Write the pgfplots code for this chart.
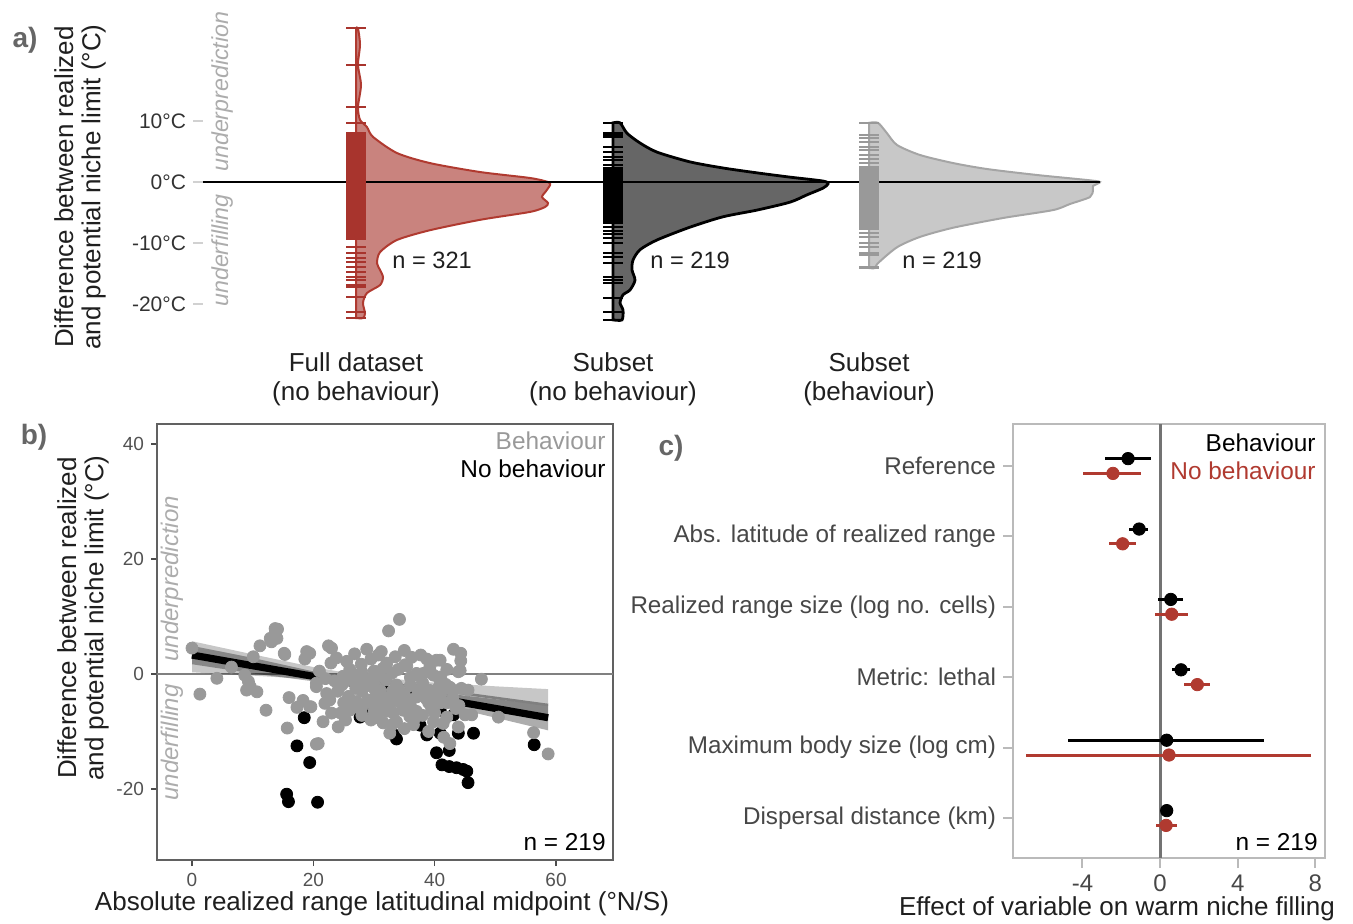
\documentclass[border=0pt]{standalone}
\usepackage{fontspec}
\setmainfont{Liberation Sans}
\usepackage{pgfplots}
\pgfplotsset{compat=1.18}
\usepackage{pgfplotstable}
\definecolor{myred}{RGB}{176,58,48}
\definecolor{rugred}{RGB}{168,52,45}
\definecolor{redfill}{RGB}{201,131,126}
\definecolor{ptgray}{RGB}{153,153,153}
\definecolor{italgray}{RGB}{172,172,172}
\definecolor{violgray}{RGB}{200,200,200}
\definecolor{violgrayline}{RGB}{165,165,165}
\definecolor{darkfill}{RGB}{102,102,102}

% ---- panel a: half violins (v = degC, w = width in px from base)
\pgfplotstableread{
v w
25.2 0
25.2 2
22.5 4
19.2 2
15.9 5
12.3 2
10.2 4
9.0 11
7.4 17
4.75 41
3.1 74
1.64 124
0.66 174
0 192
-0.5 194
-1.5 190
-2.46 186
-3.44 192
-4.1 189
-4.9 174
-6.2 124
-7.9 74
-9.5 41
-11.5 24
-13.3 21
-14.4 24
-15.6 27
-16.9 24
-18.2 11
-19.8 7
-21.5 9
-22.3 7
-22.3 0
}\violred
\pgfplotstableread{
v w
9.7 0
9.7 7
8.0 14
6.4 27
4.9 44
3.3 77
2.3 110
1.5 144
0.8 177
0.16 210
-0.3 215
-1.0 210
-2.1 194
-3.3 177
-4.6 144
-5.7 110
-7.4 77
-9.5 44
-11.1 27
-12.8 20
-14.4 19
-16.1 22
-17.7 17
-18.5 10
-19.8 7
-21.0 10
-22.6 9
-22.6 0
}\violblack
\pgfplotstableread{
v w
9.7 0
9.7 9
8.0 18
6.07 28
4.43 51
3.11 84
2.13 118
1.15 168
0.33 218
0 231
-0.66 224
-1.31 224
-2.46 221
-3.6 201
-4.6 184
-5.9 134
-7.5 84
-9.0 51
-10.7 28
-13.3 9
-14.1 6
-14.1 0
}\violgray
\pgfplotstableread{
v
25.2
19.2
12.3
9.7
8.0
7.7
7.4
7.1
6.8
6.5
6.2
5.9
5.6
5.3
5.0
4.7
4.4
4.1
3.8
3.5
3.2
2.9
2.6
2.3
2.0
1.7
1.4
1.1
0.8
0.5
0.2
-0.1
-0.4
-0.7
-1.0
-1.3
-1.6
-1.9
-2.2
-2.5
-2.8
-3.1
-3.4
-3.7
-4.0
-4.3
-4.6
-4.9
-5.2
-5.5
-5.8
-6.1
-6.4
-6.7
-7.0
-7.3
-7.6
-7.9
-8.2
-8.5
-8.8
-9.1
-9.4
-10.7
-11.6
-12.5
-13.1
-13.9
-14.8
-15.6
-16.1
-16.9
-17.2
-18.9
-21.3
-22.3
}\rugred
\pgfplotstableread{
v
9.7
8.0
7.7
7.4
5.7
4.9
4.1
3.6
2.8
2.3
2.0
1.7
1.4
1.1
0.8
0.5
0.2
-0.1
-0.4
-0.7
-1.0
-1.3
-1.6
-1.9
-2.2
-2.5
-2.8
-3.1
-3.4
-3.7
-4.0
-4.3
-4.6
-4.9
-5.2
-5.5
-5.8
-6.1
-6.4
-6.7
-7.4
-8.0
-8.6
-9.2
-10.0
-11.6
-12.3
-13.3
-15.6
-16.1
-16.6
-19.0
-21.3
-22.6
}\rugblack
\pgfplotstableread{
v
9.7
7.7
7.2
6.6
5.7
5.2
4.4
3.8
3.1
2.5
2.2
1.9
1.6
1.3
1.0
0.7
0.4
0.1
-0.2
-0.5
-0.8
-1.1
-1.4
-1.7
-2.0
-2.3
-2.6
-2.9
-3.2
-3.5
-3.8
-4.1
-4.4
-4.7
-5.0
-5.3
-5.6
-5.9
-6.2
-6.5
-6.8
-7.1
-7.4
-7.7
-8.4
-9.0
-10.0
-10.7
-11.6
-12.0
-13.9
-14.1
}\ruggray

% ---- panel b: scatter
\pgfplotstableread{
x y
0 4.5
1.3 -3.5
4.1 -0.75
11.2 4.9
12.2 -6.3
13.1 5.6
13.7 7.1
14.1 7.8
14.0 6.2
13.7 7.9
12.9 6.2
15.2 3.6
15.3 3.4
10.1 3.0
8.7 -0.2
9.3 -1.3
9.0 -2.8
10.7 -3.1
9.6 -2.2
16.0 -4.1
15.7 -9.4
17.3 -5.8
18.3 -4.6
19.6 -5.7
18.9 3.9
18.6 2.6
20.5 -1.6
20.5 -12.2
34.2 9.5
32.4 7.5
22.5 4.9
23.0 4.5
28.8 4.3
30.7 3.3
35.0 4.1
37.7 3.3
38.7 2.6
40.3 2.4
19.4 3.6
22.9 1.9
27.9 1.7
32.1 1.9
35.4 1.4
37.0 0.1
20.5 -2.2
22.2 -3.4
21.9 -5.1
22.7 -4.5
19.4 -5.7
25.8 -3.9
27.1 -4.8
26.0 -6.3
28.2 -5.4
30.4 -3.9
31.0 -5.7
32.6 -5.1
33.2 -6.8
34.8 -6.3
35.9 -7.4
33.7 -8.3
21.6 -8.3
24.1 -9.2
20.8 -12.1
32.6 -10.3
39.8 -8.3
41.4 -8.6
37.6 -0.4
39.8 -0.2
24.9 -0.4
29.3 -1.0
33.7 -1.9
24.7 -1.9
43.1 4.3
44.3 3.6
44.3 2.3
40.9 2.4
43.9 0.4
47.7 -0.9
40.9 -1.6
42.5 -2.3
44.4 -2.5
45.5 -2.8
46.1 -7.1
45.0 -7.1
43.9 -9.2
42.5 -12.1
50.5 -7.5
56.3 -10.2
58.7 -13.9
31.5 1.0
35.1 1.6
38.1 0.1
44.2 0.6
26 -1
27 -2.5
28 -3
29 -2
30 -1.5
31 -2.8
32 -1
33 -3
34 -2.5
35 -3.5
36 -2
37 -4
38 -3
39 -5
40 -4
41 -3.5
42 -5
43 -4.2
44 -5.5
36 -5.5
34 -4.8
30 -6.5
29 -4.5
27 -0.2
26 0.8
28 0.3
30 0.5
31 -0.3
33 0.2
34 0.8
36 -0.6
38 -1.5
39 -2.8
41 -0.5
42 0.8
37 -6.5
38 -7.2
40 -6.8
42 -7.5
23.5 -1.2
24 -3
25 -5
23 -6.8
31.5 -8.5
29.5 -8
35 -9.5
28 -7.2
39 -10
41.5 -11
36.5 -8.8
23.8 2.8
25.5 2.2
26.8 3.5
29.5 2.6
31.2 3.9
33.5 3.0
36.2 2.9
39.2 1.2
27.5 -1.6
28.6 -1.2
30.2 -2.8
31.8 -4.2
33.0 -4.0
34.2 -3.6
35.8 -4.5
37.2 -2.8
38.6 -4.3
40.5 -2.6
41.8 -1.8
43.0 -3.0
26.5 -4.8
27.8 -6.2
29.8 -5.2
32.0 -6.5
35.0 -6.2
36.8 -7.6
39.5 -6.0
41.0 -5.0
43.5 -6.0
24.5 -6.8
25.3 -8.0
30.5 -7.6
33.0 -8.8
21.0 0.5
22.0 -0.8
6.5 1.2
}\scatgray
\pgfplotstableread{
x y
18.5 -7.6
17.3 -12.5
19.4 -15.4
15.6 -20.9
15.9 -22.2
20.7 -22.3
27.7 -7.5
29.2 -6.0
33.2 -10.5
33.7 -11.3
37.6 -8.9
38.7 -10.6
40.3 -13.7
40.9 -10.3
42.4 -13.3
41.2 -15.8
42.4 -16.1
43.6 -16.3
44.7 -16.6
45.3 -16.9
45.5 -18.9
43.9 -10.3
46.4 -10.3
43.1 -7.1
40.1 -5.5
40.9 -6.3
56.4 -12.3
}\scatblack
\pgfplotstableread{
x y
0 5.7
10 3.42
20 1.21
29 -0.45
40 -1.51
50 -2.14
58.7 -2.63
58.7 -8.15
50 -6.16
40 -3.93
29 -1.85
20 -0.93
10 -0.28
0 0.3
}\bandgray
\pgfplotstableread{
x y
0 4.9
10 2.8
20 0.45
29 -1.53
40 -3.16
50 -4.38
58.7 -5.4
58.7 -9.8
50 -7.6
40 -5.1
29 -2.65
20 -1.27
10 0.1
0 1.7
}\bandblack

% ---- panel c: coefficients
\pgfplotstableread{
x y em ep
-1.65 6.105 1.19 1.17
-1.08 5.105 0.50 0.48
0.55 4.105 0.64 0.65
1.08 3.105 0.45 0.47
0.34 2.105 5.07 5.03
0.34 1.105 0.29 0.33
}\coefblack
\pgfplotstableread{
x y em ep
-2.43 5.895 1.54 1.45
-1.93 4.895 0.70 0.70
0.60 3.895 0.86 0.83
1.92 2.895 0.68 0.63
0.46 1.895 7.36 7.32
0.31 0.895 0.52 0.57
}\coefred

\begin{document}
\begin{tikzpicture}
\useasboundingbox (0,0) rectangle (676.5pt,461.5pt);

% ================= panel a
\begin{axis}[
  at={(101.5pt,296.5pt)}, anchor=south west,
  scale only axis, width=451pt, height=155pt,
  xmin=203, xmax=1105, ymin=-24.26, ymax=26.56,
  axis line style={draw=none},
  ytick={-20,-10,0,10},
  yticklabels={-20°C,-10°C,0°C,10°C},
  ytick pos=left, xtick pos=bottom,
  xtick={356,613,869},
  xticklabels={{Full dataset\\(no behaviour)},{Subset\\(no behaviour)},{Subset\\(behaviour)}},
  xticklabel style={align=center, font=\fontsize{13}{14.5}\selectfont, text=black!88, yshift=-3pt},
  x tick style={draw=none},
  y tick style={draw=black!18, line width=1pt},
  tick align=outside, major tick length=5pt,
  yticklabel style={font=\fontsize{10.5}{12}\selectfont, text=black!80},
  clip=false,
]
\addplot[smooth, tension=0.45, fill=redfill, draw=myred, line width=1pt] table[x expr=356+\thisrow{w}, y=v] {\violred} -- cycle;
\addplot[smooth, tension=0.45, fill=darkfill, draw=black, line width=1.4pt] table[x expr=613+\thisrow{w}, y=v] {\violblack} -- cycle;
\addplot[smooth, tension=0.45, fill=violgray, draw=violgrayline, line width=1pt] table[x expr=869+\thisrow{w}, y=v] {\violgray} -- cycle;
\addplot[only marks, mark=-, mark size=4.8pt, mark options={line width=1pt, draw=rugred}] table[x expr=356, y=v] {\rugred};
\addplot[only marks, mark=-, mark size=4.8pt, mark options={line width=1pt, draw=black}] table[x expr=613, y=v] {\rugblack};
\addplot[only marks, mark=-, mark size=4.8pt, mark options={line width=1pt, draw=black!40}] table[x expr=869, y=v] {\ruggray};
\addplot[black, line width=1pt] coordinates {(203,0) (1100,0)};
\end{axis}

% ================= panel b
\begin{axis}[
  at={(78.5pt,31.5pt)}, anchor=south west,
  scale only axis, width=228pt, height=218pt,
  xmin=-5.77, xmax=69.39, ymin=-32.35, ymax=43.48,
  axis line style={draw=black!62, line width=0.8pt},
  xtick={0,20,40,60}, ytick={-20,0,20,40},
  xtick pos=bottom, ytick pos=left,
  tick align=outside, major tick length=3pt,
  tick style={draw=black!70, line width=0.8pt},
  ticklabel style={font=\fontsize{9.5}{11}\selectfont, text=black!68},
  /pgf/number format/assume math mode=true,
]
\addplot[black!50, line width=0.9pt] coordinates {(-5.77,0) (69.39,0)};
\addplot[only marks, mark=*, mark size=3pt, mark options={draw=black, fill=black}] table {\scatblack};
\addplot[only marks, mark=*, mark size=3pt, mark options={draw=ptgray, fill=ptgray}] table {\scatgray};
\addplot[fill=black, fill opacity=0.22, draw=none] table {\bandgray} -- cycle;
\addplot[fill=black, fill opacity=0.32, draw=none] table {\bandblack} -- cycle;
\addplot[black!50, line width=1.3pt] coordinates {(0,3.0) (58.7,-5.39)};
\addplot[black, line width=3.6pt] coordinates {(0,3.3) (58.7,-7.6)};
\end{axis}

% ================= panel c
\begin{axis}[
  at={(506.5pt,32.5pt)}, anchor=south west,
  scale only axis, width=156pt, height=217pt,
  xmin=-7.58, xmax=8.5, ymin=0.432, ymax=6.597,
  axis line style={draw=black!27, line width=1pt},
  xtick={-4,0,4,8}, ytick={1,2,3,4,5,6},
  yticklabels={Dispersal distance (km),Maximum body size (log cm),Metric: lethal,Realized range size (log no. cells),Abs. latitude of realized range,Reference},
  xtick pos=bottom, ytick pos=left,
  tick align=outside, major tick length=5pt,
  tick style={draw=black!27, line width=1pt},
  yticklabel style={font=\fontsize{12.1}{14}\selectfont, text=black!72},
  xticklabel style={font=\fontsize{12}{14}\selectfont, text=black!72},
  /pgf/number format/assume math mode=true,
]
\addplot[black!55, line width=1.5pt] coordinates {(0,0.432) (0,6.597)};
\addplot[only marks, mark=*, mark size=3.1pt, mark options={draw=black, fill=black},
  error bars/.cd, x dir=both, x explicit, error mark=none,
  error bar style={line width=1.5pt, black}]
  table[x=x, y=y, x error minus=em, x error plus=ep] {\coefblack};
\addplot[only marks, mark=*, mark size=3.1pt, mark options={draw=myred, fill=myred},
  error bars/.cd, x dir=both, x explicit, error mark=none,
  error bar style={line width=1.5pt, myred}]
  table[x=x, y=y, x error minus=em, x error plus=ep] {\coefred};
\end{axis}

% ================= free text (pixel coordinates, y downward)
\begin{scope}[x=0.5pt, y=-0.5pt, shift={(0pt,461.5pt)}]
\node[font=\fontsize{14}{16}\selectfont\bfseries, text=black!60] at (25,40) {a)};
\node[font=\fontsize{14}{16}\selectfont\bfseries, text=black!60] at (34,437) {b)};
\node[font=\fontsize{14}{16}\selectfont\bfseries, text=black!60] at (671,448) {c)};
\node[rotate=90, align=center, font=\fontsize{13}{13.6}\selectfont, text=black!88] at (80,187) {Difference between realized\\and potential niche limit (°C)};
\node[rotate=90, anchor=west, font=\fontsize{11.6}{13}\selectfont\itshape, text=italgray, inner sep=0pt] at (222,172) {underprediction};
\node[rotate=90, anchor=east, font=\fontsize{11.6}{13}\selectfont\itshape, text=italgray, inner sep=0pt] at (222,194) {underfilling};
\node[anchor=west, font=\fontsize{11.8}{13}\selectfont, text=black!88, inner sep=0pt] at (392,260) {n = 321};
\node[anchor=west, font=\fontsize{11.8}{13}\selectfont, text=black!88, inner sep=0pt] at (650,260) {n = 219};
\node[anchor=west, font=\fontsize{11.8}{13}\selectfont, text=black!88, inner sep=0pt] at (902,260) {n = 219};
% panel b
\node[rotate=90, align=center, font=\fontsize{13}{13.6}\selectfont, text=black!88] at (83,618) {Difference between realized\\and potential niche limit (°C)};
\node[rotate=90, anchor=west, font=\fontsize{12}{13}\selectfont\itshape, text=italgray, inner sep=0pt] at (172,662) {underprediction};
\node[rotate=90, anchor=east, font=\fontsize{12}{13}\selectfont\itshape, text=italgray, inner sep=0pt] at (172,684) {underfilling};
\node[anchor=east, font=\fontsize{12.2}{14}\selectfont, text=ptgray, inner sep=0pt] at (606,441) {Behaviour};
\node[anchor=east, font=\fontsize{12.2}{14}\selectfont, text=black, inner sep=0pt] at (606,469) {No behaviour};
\node[anchor=east, font=\fontsize{12.2}{14}\selectfont, text=black, inner sep=0pt] at (606,842) {n = 219};
\node[font=\fontsize{13}{15}\selectfont, text=black!88] at (382,904) {Absolute realized range latitudinal midpoint (°N/S)};
% panel c
\node[anchor=east, font=\fontsize{12.2}{14}\selectfont, text=black, inner sep=0pt] at (1316,443) {Behaviour};
\node[anchor=east, font=\fontsize{12.2}{14}\selectfont, text=myred, inner sep=0pt] at (1316,471) {No behaviour};
\node[anchor=east, font=\fontsize{12.2}{14}\selectfont, text=black, inner sep=0pt] at (1318,842) {n = 219};
\node[font=\fontsize{13}{15}\selectfont, text=black!88] at (1117,909) {Effect of variable on warm niche filling};
\end{scope}
\end{tikzpicture}
\end{document}
